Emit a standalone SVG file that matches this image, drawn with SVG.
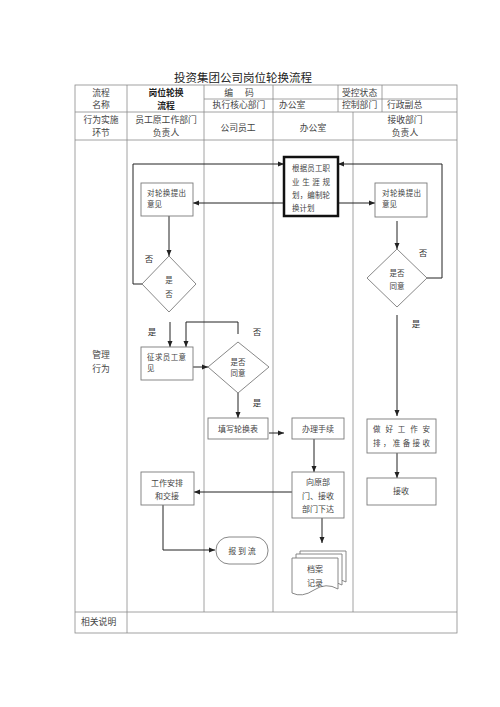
<svg xmlns="http://www.w3.org/2000/svg" width="500" height="707" viewBox="0 0 500 707">
<style>
text{font-family:"Noto Sans CJK SC","Noto Sans",sans-serif;fill:#444;}
.h{font-size:8.8px;text-anchor:middle;}
.hl{font-size:8.8px;}
.b{font-size:7.5px;}
.bc{font-size:7.5px;text-anchor:middle;}
.lb{font-size:8.5px;text-anchor:middle;fill:#333;}
.t{fill:none;stroke:#8a8a8a;stroke-width:0.8;}
.box{fill:#fff;stroke:#7a7a7a;stroke-width:0.9;}
.c{fill:none;stroke:#222;stroke-width:1;}
</style>
<defs>
<marker id="ar" markerUnits="userSpaceOnUse" markerWidth="6" markerHeight="6" viewBox="0 0 6 6" refX="6" refY="3" orient="auto">
<path d="M0,0.5 L6,3 L0,5.5 Z" fill="#222"/>
</marker>
</defs>
<rect width="500" height="707" fill="#fff"/>
<text x="243" y="82" style="font-size:11.5px;text-anchor:middle;fill:#222;">投资集团公司岗位轮换流程</text>
<g id="table">
<rect class="t" x="75" y="85" width="382" height="548"/>
<path class="t" d="M204,99H457 M75,112H457 M75,140H457 M75,612H457 M127,85V633 M204,85V612 M273,85V612 M338,85V112 M382,85V112 M353,112V612"/>
<text class="h" x="101" y="96">流程</text>
<text class="h" x="101" y="108">名称</text>
<text class="h" x="166" y="96" style="font-weight:bold;fill:#222;">岗位轮换</text>
<text class="h" x="166" y="109" style="font-weight:bold;fill:#222;">流程</text>
<text class="h" x="239" y="96" xml:space="preserve">编      码</text>
<text class="h" x="239" y="108">执行核心部门</text>
<text class="hl" x="279" y="108">办公室</text>
<text class="hl" x="342" y="96">受控状态</text>
<text class="hl" x="342" y="108">控制部门</text>
<text class="hl" x="387" y="108">行政副总</text>
<text class="h" x="101" y="123">行为实施</text>
<text class="h" x="101" y="136">环节</text>
<text class="h" x="166" y="123">员工原工作部门</text>
<text class="h" x="166" y="136">负责人</text>
<text class="h" x="238" y="131">公司员工</text>
<text class="h" x="313" y="131">办公室</text>
<text class="h" x="405" y="123">接收部门</text>
<text class="h" x="405" y="136">负责人</text>
<text class="h" x="101" y="358">管理</text>
<text class="h" x="101" y="372">行为</text>
<text class="hl" x="81" y="625">相关说明</text>
</g>
<g id="connectors">
<polyline class="c" points="142,284 133,284 133,164 284,164" marker-end="url(#ar)"/>
<polyline class="c" points="427,278 442,278 442,164 338,164" marker-end="url(#ar)"/>
<line class="c" x1="284" y1="203" x2="193" y2="203" marker-end="url(#ar)"/>
<line class="c" x1="338" y1="203" x2="375" y2="203" marker-end="url(#ar)"/>
<line class="c" x1="169" y1="216" x2="169" y2="256" marker-end="url(#ar)"/>
<line class="c" x1="397" y1="221" x2="397" y2="249" marker-end="url(#ar)"/>
<line class="c" x1="170" y1="322" x2="170" y2="347" marker-end="url(#ar)"/>
<polyline class="c" points="238,334 238,322 186,322 186,347" marker-end="url(#ar)"/>
<line class="c" x1="193" y1="367" x2="208" y2="367" marker-end="url(#ar)"/>
<line class="c" x1="238" y1="393" x2="238" y2="418" marker-end="url(#ar)"/>
<line class="c" x1="269" y1="433" x2="284" y2="433" marker-end="url(#ar)"/>
<line class="c" x1="314" y1="439" x2="314" y2="472" marker-end="url(#ar)"/>
<line class="c" x1="292" y1="492" x2="194" y2="492" marker-end="url(#ar)"/>
<polyline class="c" points="163,505 163,550 215,550" marker-end="url(#ar)"/>
<line class="c" x1="322" y1="518" x2="322" y2="543" marker-end="url(#ar)"/>
<line class="c" x1="397" y1="315" x2="397" y2="416" marker-end="url(#ar)"/>
<line class="c" x1="397" y1="453" x2="397" y2="478" marker-end="url(#ar)"/>
</g>
<g id="labels">
<text class="lb" x="149" y="262">否</text>
<text class="lb" x="152" y="335">是</text>
<text class="lb" x="257" y="335">否</text>
<text class="lb" x="257" y="406">是</text>
<text class="lb" x="423" y="256">否</text>
<text class="lb" x="416" y="327">是</text>
</g>
<g id="n-plan">
<rect x="284" y="157" width="54" height="59" fill="#fff" stroke="#111" stroke-width="2.5"/>
<text class="b" x="292" y="171" textLength="38">根据员工职</text>
<text class="b" x="292" y="185" textLength="38" xml:space="preserve">业 生 涯 规</text>
<text class="b" x="292" y="198" textLength="38">划，编制轮</text>
<text class="b" x="292" y="211">换计划</text>
</g>
<g id="n-opinion-left">
<rect class="box" x="141" y="183" width="52" height="33"/>
<text class="b" x="147" y="196" textLength="39">对轮换提出</text>
<text class="b" x="147" y="207">意见</text>
</g>
<g id="n-opinion-right">
<rect class="box" x="375" y="183" width="52" height="34"/>
<text class="b" x="382" y="196" textLength="39">对轮换提出</text>
<text class="b" x="382" y="207">意见</text>
</g>
<g id="n-decide-left">
<polygon class="box" points="169,256 196,284 169,312 142,284"/>
<text class="bc" x="169" y="283">是</text>
<text class="bc" x="169" y="297">否</text>
</g>
<g id="n-decide-right">
<polygon class="box" points="397,249 427,278 397,307 367,278"/>
<text class="bc" x="397" y="276">是否</text>
<text class="bc" x="397" y="289">同意</text>
</g>
<g id="n-solicit">
<rect class="box" x="141" y="347" width="52" height="33"/>
<text class="b" x="147" y="360" textLength="39">征求员工意</text>
<text class="b" x="147" y="371">见</text>
</g>
<g id="n-decide-mid">
<polygon class="box" points="238,342 269,367 238,393 208,367"/>
<text class="bc" x="238" y="365">是否</text>
<text class="bc" x="238" y="376">同意</text>
</g>
<g id="n-fill">
<rect class="box" x="208" y="418" width="60" height="21"/>
<text class="bc" x="238" y="432" style="font-size:8px">填写轮换表</text>
</g>
<g id="n-handle">
<rect class="box" x="292" y="418" width="52" height="21"/>
<text class="bc" x="318" y="432" style="font-size:8px">办理手续</text>
</g>
<g id="n-issue">
<rect class="box" x="292" y="472" width="52" height="46"/>
<text class="bc" x="318" y="485" style="font-size:8px">向原部</text>
<text class="bc" x="318" y="499" style="font-size:8px">门、接收</text>
<text class="bc" x="318" y="512" style="font-size:8px">部门下达</text>
</g>
<g id="n-handover">
<rect class="box" x="141" y="472" width="53" height="33"/>
<text class="bc" x="167" y="486" style="font-size:8px">工作安排</text>
<text class="bc" x="167" y="499" style="font-size:8px">和交接</text>
</g>
<g id="n-report">
<rect class="box" x="216" y="537" width="52" height="27" rx="13" ry="13"/>
<text class="bc" x="242" y="554" style="font-size:8px" xml:space="preserve">报 到 流</text>
</g>
<g id="n-archive">
<path class="box" d="M300,551H346V582Q334,575 322,583Q310,591 300,586Z"/>
<path class="box" d="M296,554H342V585Q330,578 318,586Q306,594 296,589Z"/>
<path class="box" d="M292,558H338V589Q326,582 314,590Q302,598 292,593Z"/>
<text class="bc" x="315" y="572" style="font-size:8px">档案</text>
<text class="bc" x="315" y="586" style="font-size:8px">记录</text>
</g>
<g id="n-prepare">
<rect class="box" x="367" y="419" width="69" height="34"/>
<text class="b" x="373" y="432" textLength="57" xml:space="preserve">做 好 工 作 安</text>
<text class="b" x="373" y="446" textLength="57">排，准备接收</text>
</g>
<g id="n-receive">
<rect class="box" x="367" y="478" width="69" height="27"/>
<text class="bc" x="401" y="494" style="font-size:8px">接收</text>
</g>
</svg>
